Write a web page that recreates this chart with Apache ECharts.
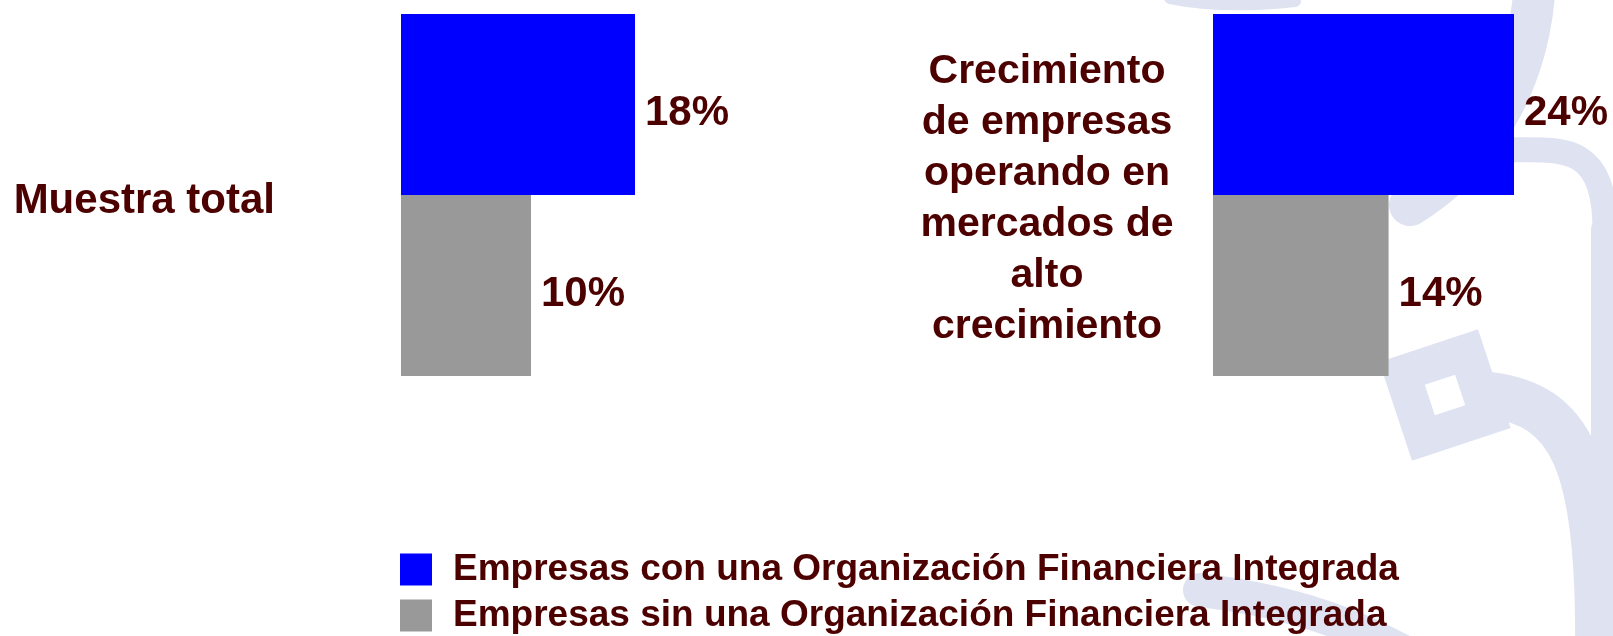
<!DOCTYPE html>
<html>
<head>
<meta charset="utf-8">
<script src="https://cdn.jsdelivr.net/npm/echarts@6/dist/echarts.min.js"></script>
<style>
  html, body { margin: 0; padding: 0; background: #fff; }
  #chart { width: 1613px; height: 636px; }
</style>
</head>
<body>
<div id="chart"></div>
<script>
// data
const categories = ['Muestra total', 'Crecimiento\nde empresas\noperando en\nmercados de\nalto\ncrecimiento']
const seriesNames = ['Empresas con una Organización Financiera Integrada', 'Empresas sin una Organización Financiera Integrada']
const conValues = [18, 24]
const sinValues = [10, 14]
const axisMax = [20, 24]

const TXT = '#4c0000'
const BLUE = '#0000ff'
const GRAY = '#999999'
const MARK = '#dfe3f1'
const FONT = '"Liberation Sans", Arial, sans-serif'

const chart = echarts.init(document.getElementById('chart'), null, { renderer: 'canvas' })

const grids = [
  { left: 401, top: 14, width: 260, height: 362 },
  { left: 1213, top: 14, width: 301, height: 362 }
]

const xAxes = grids.map((g, i) => ({
  type: 'value', gridIndex: i, min: 0, max: axisMax[i], show: false
}))

// category names nudged down a little with rich-text padding
const catStyle = { color: TXT, fontWeight: 'bold', fontFamily: FONT }
const yAxes = grids.map((g, i) => ({
  type: 'category', gridIndex: i, data: [categories[i]],
  axisLine: { show: false }, axisTick: { show: false }, splitLine: { show: false },
  axisLabel: i === 0
    ? {
        margin: 126,
        formatter: v => `{a|${v}}`,
        rich: { a: { ...catStyle, fontSize: 42, padding: [12, 0, 0, 0] } }
      }
    : {
        margin: 166, align: 'center',
        formatter: v => v.split('\n').map(s => `{b|${s}}`).join('\n'),
        rich: { b: { ...catStyle, fontSize: 41, lineHeight: 51, align: 'center', padding: [8, 0, 0, 0] } }
      }
}))

const label = {
  show: true, position: 'right', distance: 10, offset: [0, 9],
  formatter: '{c}%', color: TXT, fontSize: 42, fontWeight: 'bold', fontFamily: FONT
}

// first series sits at the top of the band
const series = []
grids.forEach((g, i) => {
  series.push({
    name: seriesNames[0], type: 'bar', xAxisIndex: i, yAxisIndex: i,
    data: [conValues[i]], itemStyle: { color: BLUE },
    barGap: 0, barCategoryGap: 0, label
  })
  series.push({
    name: seriesNames[1], type: 'bar', xAxisIndex: i, yAxisIndex: i,
    data: [sinValues[i]], itemStyle: { color: GRAY },
    barGap: 0, barCategoryGap: 0, label
  })
})

// faint logo watermark behind the right panel
const wm = (x1, y1, cx1, cy1, cx2, cy2, x2, y2, w) => ({
  type: 'bezierCurve', silent: true, z: -10,
  shape: { x1, y1, cpx1: cx1, cpy1: cy1, cpx2: cx2, cpy2: cy2, x2, y2 },
  style: { stroke: MARK, lineWidth: w, fill: null, lineCap: 'round' }
})

const legendText = { color: TXT, fontSize: 37, fontWeight: 'bold', fontFamily: FONT, padding: [0, 0, 0, 16] }

chart.setOption({
  animation: false,
  backgroundColor: '#fff',
  graphic: [
    wm(1170, -2, 1210, 6, 1250, 6, 1295, 1, 12),
    wm(1535, -20, 1530, 90, 1475, 165, 1410, 205, 42),
    wm(1500, 150, 1560, 150, 1605, 140, 1605, 230, 25),
    wm(1605, 230, 1605, 300, 1605, 400, 1605, 560, 28),
    {
      type: 'rect', silent: true, z: -10, x: 1445, y: 395, rotation: 0.32,
      shape: { x: -34, y: -34, width: 68, height: 68 },
      style: { stroke: MARK, lineWidth: 36, fill: null }
    },
    wm(1490, 395, 1570, 405, 1600, 460, 1598, 650, 46),
    wm(1200, 590, 1280, 600, 1340, 618, 1400, 650, 34)
  ],
  legend: [
    {
      left: 395, top: 546, itemWidth: 32, itemHeight: 32, icon: 'rect',
      data: [seriesNames[0]], textStyle: legendText
    },
    {
      left: 395, top: 592, itemWidth: 32, itemHeight: 32, icon: 'rect',
      data: [seriesNames[1]], textStyle: legendText
    }
  ],
  grid: grids,
  xAxis: xAxes,
  yAxis: yAxes,
  series
})
</script>
</body>
</html>
